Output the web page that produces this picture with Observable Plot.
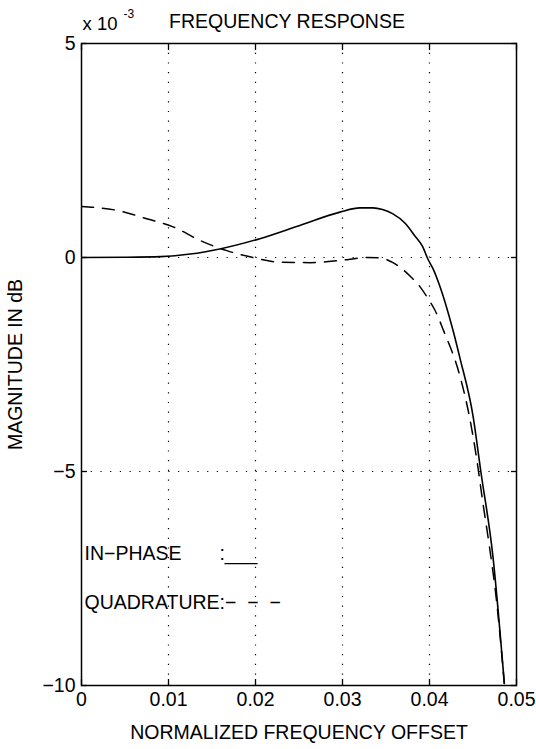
<!DOCTYPE html>
<html><head><meta charset="utf-8">
<script src="https://cdn.jsdelivr.net/npm/d3@7"></script>
<script src="https://cdn.jsdelivr.net/npm/@observablehq/plot@0.6"></script>
<style>
body{margin:0;background:#fff;}
svg text{white-space:pre;}
</style></head><body><div id="chart"></div>
<script>
// values in units of 1e-3 dB
const freqInPhase = [0, 0.005, 0.0091, 0.0125, 0.0159, 0.0205, 0.0251, 0.0297, 0.032, 0.0335, 0.0346, 0.0358, 0.0372, 0.0383, 0.0392, 0.0398, 0.0404, 0.0411, 0.0419, 0.0427, 0.0435, 0.0450, 0.0459, 0.0473, 0.0486];
const magInPhase  = [0, 0.005, 0.02, 0.08, 0.2, 0.44, 0.75, 1.06, 1.16, 1.16, 1.12, 1.02, 0.80, 0.51, 0.26, -0.03, -0.26, -0.62, -1.12, -1.70, -2.35, -3.70, -5.0, -7.0, -9.95];
const freqQuad = [0, 0.0041, 0.0076, 0.0106, 0.0136, 0.0167, 0.0197, 0.0228, 0.0263, 0.0297, 0.0328, 0.0343, 0.0358, 0.0379, 0.0389, 0.0398, 0.0406, 0.0417, 0.0434, 0.0446, 0.0454, 0.0461, 0.0469, 0.0477, 0.0486];
const magQuad  = [1.19, 1.10, 0.90, 0.71, 0.40, 0.16, 0, -0.11, -0.12, -0.07, 0, -0.01, -0.12, -0.46, -0.68, -0.95, -1.22, -1.75, -2.7, -3.73, -4.67, -5.68, -6.77, -8.01, -9.95];
const xTicks = [0, 0.01, 0.02, 0.03, 0.04, 0.05];
const yTicks = [5, 0, -5, -10];
const xGrid = [0.01, 0.02, 0.03, 0.04];
const yGrid = [0, -5];
const titleText = "FREQUENCY RESPONSE";
const xLabel = "NORMALIZED FREQUENCY OFFSET";
const yLabel = "MAGNITUDE IN dB";
const scaleText = "x 10";
const scaleExp = "-3";
const legendInPhase = "IN\u2212PHASE       :___ ";
const legendQuad = "QUADRATURE:\u2212  \u2212  \u2212";

const inPhase = freqInPhase.map((f, i) => ({f, m: magInPhase[i]}));
const quad = freqQuad.map((f, i) => ({f, m: magQuad[i]}));
const font = "'Liberation Sans', Arial, Helvetica, sans-serif";
const fs = 19.5;

const chart = Plot.plot({
  width: 536, height: 749,
  marginLeft: 81, marginRight: 20, marginTop: 43, marginBottom: 64,
  style: {fontFamily: font, fontSize: fs + "px", color: "#000", background: "#fff"},
  x: {domain: [0, 0.05]},
  y: {domain: [-10, 5]},
  marks: [
    Plot.gridX(xGrid, {stroke: "#000", strokeOpacity: 1, strokeWidth: 1.2, strokeDasharray: "1.2,8.5"}),
    Plot.gridY(yGrid, {stroke: "#000", strokeOpacity: 1, strokeWidth: 1.2, strokeDasharray: "1.2,8.5"}),
    Plot.axisX(xTicks, {anchor: "bottom", tickSize: 0, tickPadding: 7, tickFormat: d => String(d), label: xLabel, labelAnchor: "center", labelArrow: "none", labelOffset: 53, fontSize: fs}),
    Plot.axisX(xTicks, {anchor: "bottom", tickSize: -6, text: null, label: null, strokeWidth: 1.3}),
    Plot.axisX(xTicks, {anchor: "top", tickSize: -6, text: null, label: null, strokeWidth: 1.3}),
    Plot.axisY(yTicks, {anchor: "left", tickSize: 0, tickPadding: 6, label: yLabel, labelAnchor: "center", labelArrow: "none", labelOffset: 73, fontSize: fs}),
    Plot.axisY(yTicks, {anchor: "left", tickSize: -6, text: null, label: null, strokeWidth: 1.3}),
    Plot.axisY(yTicks, {anchor: "right", tickSize: -6, text: null, label: null, strokeWidth: 1.3}),
    Plot.line(inPhase, {x: "f", y: "m", stroke: "#000", strokeWidth: 1.6, curve: "monotone-x", clip: true}),
    Plot.line(quad, {x: "f", y: "m", stroke: "#000", strokeWidth: 1.5, strokeDasharray: "12,9", curve: "monotone-x", clip: true}),
    Plot.frame({stroke: "#000", strokeWidth: 1.5}),
    Plot.text([titleText], {text: d => d, frameAnchor: "top", dx: -12, dy: -29, fontSize: fs}),
    Plot.text([scaleText], {text: d => d, frameAnchor: "top-left", textAnchor: "start", dx: 1, dy: -27, fontSize: 18.5}),
    Plot.text([scaleExp], {text: d => d, frameAnchor: "top-left", textAnchor: "start", dx: 42, dy: -34, fontSize: 12}),
    Plot.text([legendInPhase], {text: d => d, frameAnchor: "bottom-left", textAnchor: "start", dx: 3, dy: -126, fontSize: fs}),
    Plot.text([legendQuad], {text: d => d, frameAnchor: "bottom-left", textAnchor: "start", dx: 3, dy: -77, fontSize: fs})
  ]
});
document.getElementById("chart").append(chart);
</script></body></html>
